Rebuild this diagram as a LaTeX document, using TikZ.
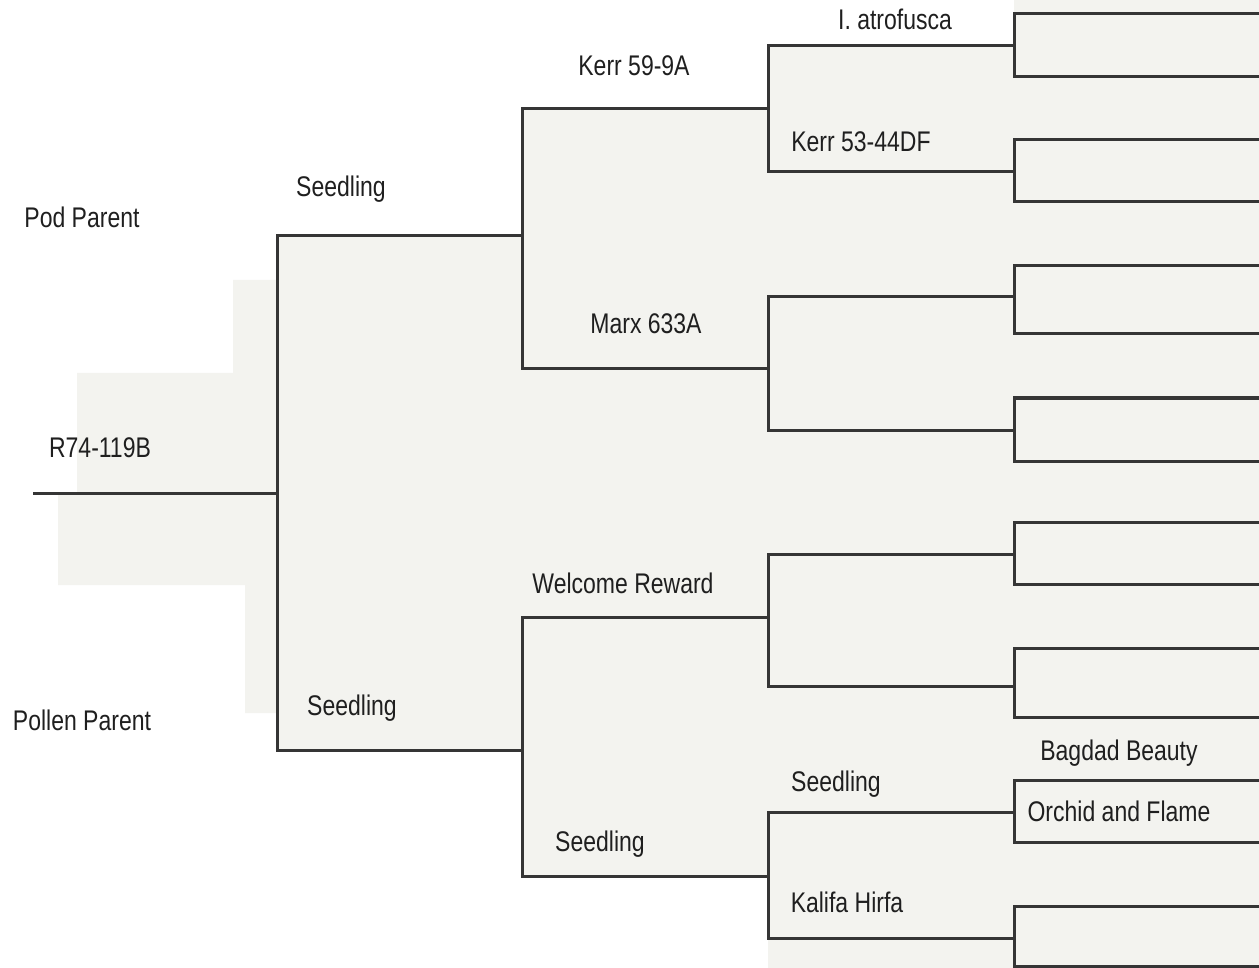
\documentclass[tikz,border=0pt]{standalone}
\usepackage{fontspec}
\setmainfont{Liberation Sans}[FakeStretch=0.81]
\usetikzlibrary{positioning}
\definecolor{paper}{HTML}{F3F3EF}
\definecolor{ink}{HTML}{353535}
\tikzset{
  tline/.style = {draw=ink, line width=1.5pt},
  lbl/.style   = {anchor=base, inner sep=0pt, text=black!88,
                  font=\fontsize{14.2}{17}\selectfont},
}
\begin{document}
\begin{tikzpicture}[x=0.5pt, y=-0.5pt]
  \useasboundingbox (0,0) rectangle (1259,968);

  % shaded paper
  \fill[paper] (1014,0) -- (1259,0) -- (1259,968) -- (768,968) -- (768,876)
    -- (522,876) -- (522,750) -- (277,750) -- (277,713) -- (245,713)
    -- (245,585) -- (58,585) -- (58,494) -- (77,494) -- (77,373)
    -- (233,373) -- (233,280) -- (277,280) -- (277,236) -- (522,236)
    -- (522,109) -- (768,109) -- (768,46) -- (1014,46) -- cycle;

  % line ends, one per plant
  \coordinate (r0)   at (33,493);
  \coordinate (root) at (277,493);
  \coordinate (s1)   at (522,236);
  \coordinate (s2)   at (522,750);
  \coordinate (k59)  at (768,109);
  \coordinate (mx)   at (768,369);
  \coordinate (wr)   at (768,617);
  \coordinate (s3)   at (768,876);
  \coordinate (ia)   at (1014,46);
  \coordinate (k53)  at (1014,172);
  \coordinate (m1)   at (1014,297);
  \coordinate (m2)   at (1014,430);
  \coordinate (w1)   at (1014,554);
  \coordinate (w2)   at (1014,686);
  \coordinate (s4)   at (1014,812);
  \coordinate (kh)   at (1014,938);
  \coordinate (ia1)  at (1259,14);
  \coordinate (ia2)  at (1259,77);
  \coordinate (k1)   at (1259,140);
  \coordinate (k2)   at (1259,202);
  \coordinate (m1a)  at (1259,266);
  \coordinate (m1b)  at (1259,334);
  \coordinate (m2a)  at (1259,398);
  \coordinate (m2b)  at (1259,461);
  \coordinate (w1a)  at (1259,522);
  \coordinate (w1b)  at (1259,584);
  \coordinate (w2a)  at (1259,648);
  \coordinate (w2b)  at (1259,717);
  \coordinate (bb)   at (1259,780);
  \coordinate (of)   at (1259,842);
  \coordinate (kh1)  at (1259,906);
  \coordinate (kh2)  at (1259,966);

  % brackets
  \draw[tline] (r0) -- (root);
  \foreach \kid/\pod/\pol in {root/s1/s2, s1/k59/mx, s2/wr/s3,
      k59/ia/k53, mx/m1/m2, wr/w1/w2, s3/s4/kh,
      ia/ia1/ia2, k53/k1/k2, m1/m1a/m1b, m2/m2a/m2b,
      w1/w1a/w1b, w2/w2a/w2b, s4/bb/of, kh/kh1/kh2}
    \draw[tline] (\pod) -| (\kid) |- (\pol);

  % names
  \node[lbl] (lpod)  at (82,228)   {Pod Parent};
  \node[lbl] (lpol)  at (82,730)   {Pollen Parent};
  \node[lbl] (lroot) at (100,457)  {R74-119B};
  \node[lbl] (ls1)   at (341,197)  {Seedling};
  \node[lbl] (ls2)   at (352,715)  {Seedling};
  \node[lbl] (lk59)  at (634,76)   {Kerr 59-9A};
  \node[lbl] (lmx)   at (646,334)  {Marx 633A};
  \node[lbl] (lwr)   at (623,593)  {Welcome Reward};
  \node[lbl] (ls3)   at (600,851)  {Seedling};
  \node[lbl] (lia)   at (895,30)   {I. atrofusca};
  \node[lbl] (lk53)  at (861,152)  {Kerr 53-44DF};
  \node[lbl] (ls4)   at (836,791)  {Seedling};
  \node[lbl] (lkh)   at (847,912)  {Kalifa Hirfa};
  \node[lbl] (lbb)   at (1119,760) {Bagdad Beauty};
  \node[lbl] (lof)   at (1119,821) {Orchid and Flame};
\end{tikzpicture}
\end{document}
